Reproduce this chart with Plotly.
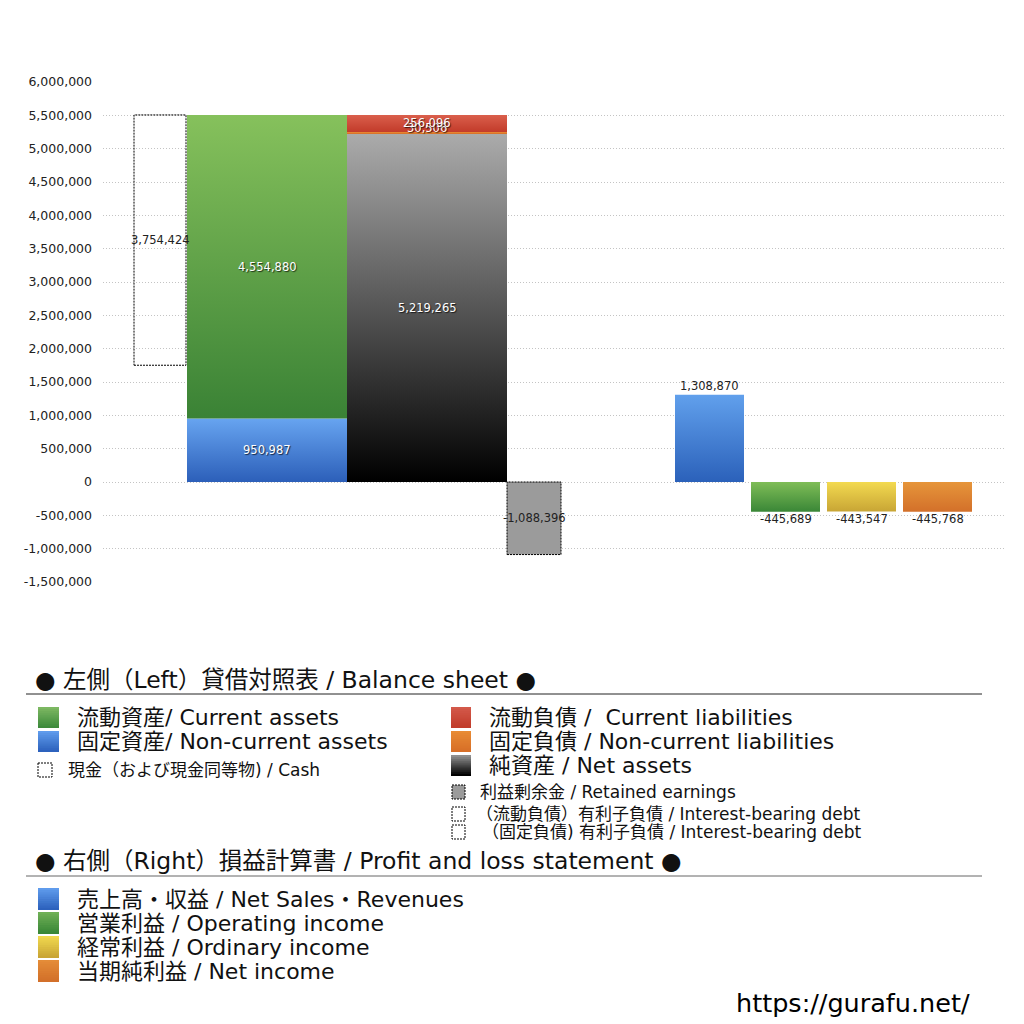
import plotly.graph_objects as go

# 貸借対照表 (left)
current_assets = 4554880
non_current_assets = 950987
current_liabilities = 256096
non_current_liabilities = 30506
net_assets = 5219265
cash = 3754424
retained_earnings = -1088396

# 損益計算書 (right)
pl_names = ["売上高・収益", "営業利益", "経常利益", "当期純利益"]
pl_values = [1308870, -445689, -443547, -445768]

y_ticks = list(range(-1500000, 6000001, 500000))

FONT = "DejaVu Sans, Noto Sans CJK JP"
W = H = 1024
OFF = 8  # page body margin


def px(x):
    return (x - OFF) / W


def py(y):
    return 1 - (y - OFF) / H


fig = go.Figure()


def add_bar(xc, w, y0, y1, top, bottom, line=None, solid=None):
    xs = [xc - w / 2, xc + w / 2, xc + w / 2, xc - w / 2, xc - w / 2]
    ys = [y0, y0, y1, y1, y0]
    kw = dict(x=xs, y=ys, fill="toself", mode="lines", hoverinfo="skip", showlegend=False)
    if solid is not None:
        kw["fillcolor"] = solid
    else:
        kw["fillgradient"] = dict(type="vertical", colorscale=[[0, bottom], [1, top]])
    kw["line"] = line if line else dict(width=0)
    fig.add_trace(go.Scatter(**kw))


def label(x, y, v, color="#222", shadow=False, size=11.5):
    font = dict(family=FONT, size=size, color=color)
    if shadow:
        font["shadow"] = "1px 1px 1px rgba(0,0,0,0.7)"
    fig.add_annotation(x=x, y=y, xref="x", yref="y", text=f"{v:,}", showarrow=False, font=font)


dotted = dict(color="black", width=1, dash="2px,1px")
total_assets = current_assets + non_current_assets

# cash (dotted outline)
add_bar(160, 52, total_assets - cash, total_assets, None, None, line=dotted, solid="rgba(255,255,255,0)")
label(160, total_assets - cash / 2, cash)

# assets
add_bar(267, 160, 0, non_current_assets, "#67a4f0", "#2c5fb9")
add_bar(267, 160, non_current_assets, total_assets, "#86c15c", "#3a8235")
label(267, non_current_assets / 2, non_current_assets, "white", True)
label(267, non_current_assets + current_assets / 2, current_assets, "white", True)

# liabilities and net assets
add_bar(427, 160, 0, net_assets, "#ababab", "#000000")
add_bar(427, 160, net_assets, net_assets + non_current_liabilities, "#eb8d34", "#d36b25")
add_bar(427, 160, net_assets + non_current_liabilities,
        net_assets + non_current_liabilities + current_liabilities, "#da5f4c", "#c23b2a")
label(427, net_assets / 2, net_assets, "white", True)
label(427, net_assets + non_current_liabilities / 2 + 70000, non_current_liabilities, "white", True)
label(427, net_assets + non_current_liabilities + current_liabilities / 2, current_liabilities, "white", True)

# retained earnings
add_bar(534, 54, retained_earnings, 0, None, None, line=dotted, solid="#9b9b9b")
label(534, retained_earnings / 2, retained_earnings)

# P/L bars
pl_x = [709.5, 785.5, 861.5, 937.5]
pl_colors = [("#61a0ec", "#2b61ba"), ("#7fbd57", "#3a8737"), ("#f3da50", "#c8a535"), ("#e6953a", "#d3702a")]
for xc, v, (top, bottom) in zip(pl_x, pl_values, pl_colors):
    add_bar(xc, 69, min(0, v), max(0, v), top, bottom)
    if v >= 0:
        label(xc, v + 130000, v)
    else:
        label(xc, v - 110000, v)

grid = dict(showgrid=True, gridcolor="#c4c4c4", griddash="1px,2px", gridwidth=1)
fig.update_layout(
    width=W, height=H,
    margin=dict(l=0, r=0, t=0, b=0),
    paper_bgcolor="white", plot_bgcolor="white",
    font=dict(family=FONT, color="#222"),
    xaxis=dict(domain=[px(103), px(1005)], range=[103, 1005], visible=False),
    yaxis=dict(domain=[py(582), py(82)], range=[-1500000, 6000000], automargin=False,
               tickvals=y_ticks, ticktext=[f"{v:,}" for v in y_ticks],
               tickfont=dict(size=12.5, color="#222"), ticklabelstandoff=10,
               zeroline=False, showline=False, **grid),
)


# legend block
def text(x, y, s, size, anchor="left", color="#111"):
    fig.add_annotation(x=px(x), y=py(y), xref="paper", yref="paper", text=s, showarrow=False,
                       xanchor=anchor, yanchor="middle", font=dict(family=FONT, size=size, color=color))


def swatch(x0, y0, x1, y1, top, bottom, n=10):
    def mix(a, b, t):
        a = [int(a[i:i + 2], 16) for i in (1, 3, 5)]
        b = [int(b[i:i + 2], 16) for i in (1, 3, 5)]
        return "#%02x%02x%02x" % tuple(int(a[k] + (b[k] - a[k]) * t) for k in range(3))
    for i in range(n):
        ya = y0 + (y1 - y0) * i / n
        fig.add_shape(type="rect", xref="paper", yref="paper", x0=px(x0), x1=px(x1), y0=py(ya), y1=py(y1),
                      fillcolor=mix(top, bottom, i / (n - 1)), line=dict(width=0))


def dashed_box(x0, y0, x1, y1, fill="white"):
    fig.add_shape(type="rect", xref="paper", yref="paper", x0=px(x0), x1=px(x1), y0=py(y0), y1=py(y1),
                  fillcolor=fill, line=dict(color="black", width=1, dash="2px,1px"))


HEAD = 23.5
BIG = 22
SMALL = 17

text(33, 680, "● 左側（Left）貸借対照表 / Balance sheet ●", HEAD)
fig.add_shape(type="line", xref="paper", yref="paper", x0=px(26), x1=px(982), y0=py(694), y1=py(694),
              line=dict(color="#222", width=1))

swatch(38, 707, 59, 728, "#7cb862", "#3e8a3c")
text(75, 717, "流動資産/ Current assets", BIG)
swatch(38, 731, 59, 752, "#5f9bec", "#2d62bd")
text(75, 741, "固定資産/ Non-current assets", BIG)
dashed_box(38, 763, 52, 777)
text(66, 770, "現金（および現金同等物) / Cash", SMALL)

swatch(451, 707, 471, 728, "#d3594a", "#c23c2b")
text(487, 717, "流動負債 /  Current liabilities", BIG)
swatch(451, 731, 471, 752, "#e88b34", "#d86f28")
text(487, 741, "固定負債 / Non-current liabilities", BIG)
swatch(451, 755, 471, 776, "#8f8f8f", "#000000")
text(487, 765, "純資産 / Net assets", BIG)
dashed_box(452, 785, 465, 799, fill="#9b9b9b")
text(478, 792, "利益剰余金 / Retained earnings", SMALL)
dashed_box(452, 807, 465, 821)
text(474, 814, "（流動負債）有利子負債 / Interest-bearing debt", SMALL)
dashed_box(452, 825, 465, 839)
text(480, 832, "（固定負債) 有利子負債 / Interest-bearing debt", SMALL)

text(33, 861, "● 右側（Right）損益計算書 / Profit and loss statement ●", HEAD)
fig.add_shape(type="line", xref="paper", yref="paper", x0=px(26), x1=px(982), y0=py(876), y1=py(876),
              line=dict(color="#666", width=1))

sw = [("#5f9bec", "#2d62bd"), ("#6fb056", "#3a8737"), ("#f0d84e", "#c9a536"), ("#e48c38", "#d3702a")]
for i, (name, en) in enumerate(zip(pl_names, ["Net Sales・Revenues", "Operating income",
                                             "Ordinary income", "Net income"])):
    yc = 899 + 24 * i
    swatch(38, yc - 11, 59, yc + 11, *sw[i])
    text(75, yc, f"{name} / {en}", BIG)

text(972, 1003, "https://gurafu.net/", 25.5, anchor="right", color="#000")

fig.write_html("out.html")
